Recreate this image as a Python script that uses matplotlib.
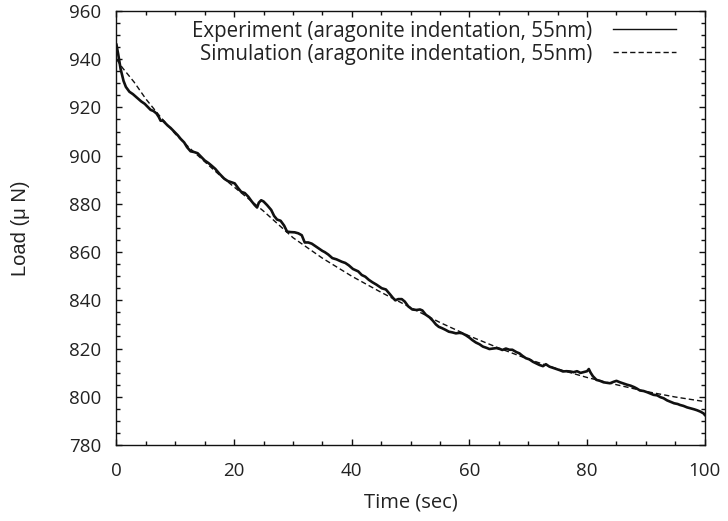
import matplotlib
matplotlib.use("Agg")
import matplotlib.pyplot as plt
from matplotlib.lines import Line2D
from matplotlib.ticker import MultipleLocator

exp_t = [0, 0.3, 0.7, 1.2, 1.6, 2.2, 2.8, 3.5, 4.2, 4.8, 5.4, 5.8, 6.3, 6.8, 7.2, 7.5, 7.9,
         8.3, 8.7, 9.2, 9.8, 10.4, 10.9, 11.5, 12.0, 12.6, 13.2, 13.8, 14.4, 15.0, 15.6,
         16.1, 16.8, 17.5, 18.3, 18.9, 19.5, 20.1, 20.7, 21.2, 21.8, 22.4, 23.0, 23.5,
         23.9, 24.2, 24.6, 25.0, 25.6, 26.3, 26.8, 27.3, 27.9, 28.5, 29.0, 29.6, 30.3,
         30.9, 31.5, 32.0, 32.6, 33.2, 33.8, 34.4, 35.0, 35.4, 36.0, 36.7, 37.4, 38.3,
         38.9, 39.5, 40.2, 41.1, 41.7, 42.3, 42.9, 43.5, 44.2, 45.1, 45.8, 46.5, 47.0,
         47.4, 47.9, 48.5, 49.0, 49.6, 50.3, 51.0, 51.6, 52.0, 52.6, 53.2, 53.8, 54.3,
         54.8, 55.3, 55.9, 56.5, 57.1, 57.7, 58.3, 58.8, 59.4, 60.0, 60.5, 61.1, 61.7,
         62.3, 62.9, 63.4, 64.0, 64.6, 65.2, 65.6, 66.2, 66.8, 67.3, 68.0, 68.5, 69.0,
         69.6, 70.2, 70.8, 71.4, 71.9, 72.5, 73.0, 73.6, 74.2, 74.8, 75.4, 75.9, 76.5,
         77.1, 77.7, 78.3, 78.9, 79.5, 80.0, 80.3, 80.6, 81.0, 81.6, 82.2, 82.8, 83.4,
         83.9, 84.5, 85.0, 85.6, 86.2, 86.8, 87.4, 88.0, 88.4, 89.0, 89.6, 90.2, 90.7,
         91.3, 91.9, 92.5, 93.0, 93.6, 94.2, 94.8, 95.4, 95.8, 96.4, 97.0, 97.6, 98.2,
         98.7, 99.3, 99.8, 100]
exp_load = [946, 942, 936, 931, 928.5, 926.5, 925.5, 924, 922.5, 921.5, 920, 919, 918.5,
            917.5, 916, 914.5, 914.5, 913.5, 912.5, 911.5, 910, 908.5, 907, 905.5, 903.5,
            901.8, 901.5, 901, 899.5, 898, 897, 896, 894.5, 892.5, 890.5, 889.5, 889,
            888.5, 886.5, 885, 884.5, 883, 881, 879.5, 878.5, 880.5, 881.5, 881, 879.5,
            877.5, 875, 873.5, 873, 871, 868.5, 868.3, 868.2, 867.8, 867, 864, 864, 863.5,
            862.5, 861.5, 860.5, 860, 859, 857.5, 857, 856, 855.5, 854.5, 853, 852, 850.5,
            849.8, 848.5, 847.5, 846.5, 845, 844.5, 842.5, 841, 840, 840.5, 840.5, 839.5,
            837.5, 836.2, 836, 836.2, 835.8, 834, 833, 831.5, 830, 829, 828.5, 827.8, 827,
            826.7, 826.3, 826.5, 826.3, 825.5, 824.5, 823.5, 822.5, 821.8, 820.8, 820.3,
            819.8, 820, 820.2, 819.8, 819.4, 820, 819.5, 819.5, 818.5, 818, 817, 816,
            815.5, 814.5, 813.8, 813.2, 812.7, 813.5, 812.5, 812, 811.5, 811, 810.5,
            810.6, 810.5, 810.2, 810.6, 809.9, 810.3, 810.6, 811.5, 810, 808.5, 807,
            806.6, 806, 805.8, 805.6, 806.2, 806.6, 806, 805.5, 805, 804.6, 804, 803.5,
            802.6, 802.4, 801.9, 801.4, 800.8, 800.6, 799.8, 799.4, 798.5, 797.9, 797.3,
            797.0, 796.6, 796.2, 795.6, 795.2, 794.8, 794.4, 793.8, 793.1, 792.5]

# Simulation curve
sim_t = [0, 1, 2, 3, 5, 7.5, 10, 12.5, 15, 17.5, 20, 22.5, 25, 27.5, 30, 35, 40, 45, 50,
         55, 60, 65, 70, 75, 80, 85, 90, 95, 100]
sim_load = [940, 936.5, 933.5, 930.5, 923.5, 916, 909, 903, 897.5, 892, 887, 882, 877,
            871.5, 866, 857.5, 850, 843.3, 837, 830.8, 825.2, 820.2, 815.6, 811.5, 808,
            805, 802.2, 799.9, 798]

exp_label = "Experiment (aragonite indentation, 55nm)"
sim_label = "Simulation (aragonite indentation, 55nm)"
x_label = "Time (sec)"
y_label = "Load (\u03bc N)"

plt.rcParams['font.family'] = ['Open Sans', 'DejaVu Sans']

fig = plt.figure(figsize=(7.28, 5.21), dpi=100)
ax = fig.add_axes([0.160, 0.1459, 0.808, 0.833])

ax.plot(exp_t, exp_load, color='#111111', lw=1.9, solid_joinstyle='round')
ax.plot(sim_t, sim_load, color='#111111', lw=1.0, dashes=(3.8, 2.2))

ax.set_xlim(0, 100)
ax.set_ylim(780, 960)
ax.xaxis.set_major_locator(MultipleLocator(20))
ax.xaxis.set_minor_locator(MultipleLocator(5))
ax.yaxis.set_major_locator(MultipleLocator(20))
ax.yaxis.set_minor_locator(MultipleLocator(5))
ax.tick_params(which='both', direction='in', top=True, right=True, width=1.0,
               colors='#111111', labelcolor='#222222', labelsize=13.5)
ax.tick_params(which='major', length=4.5, pad=11)
ax.tick_params(which='minor', length=2.6)
ax.tick_params(axis='x', which='major', pad=12)
for s in ax.spines.values():
    s.set_linewidth(1.0)
    s.set_color('#111111')

ax.set_xlabel(x_label, fontsize=14.5, color='#222222', labelpad=9)
ax.set_ylabel(y_label, fontsize=14.5, color='#222222', labelpad=28,
              family=['Liberation Sans', 'DejaVu Sans'])

handles = [Line2D([], [], color='#111111', lw=1.0),
           Line2D([], [], color='#111111', lw=1.0, dashes=(3.8, 2.2))]
ax.legend(handles, [exp_label, sim_label], loc='upper right',
          bbox_to_anchor=(0.952, 0.978), frameon=False, markerfirst=False,
          fontsize=14.8, handlelength=3.1, handletextpad=1.0, labelspacing=0.1,
          borderpad=0, borderaxespad=0, labelcolor='#222222')

fig.savefig('out.png', dpi=100)
